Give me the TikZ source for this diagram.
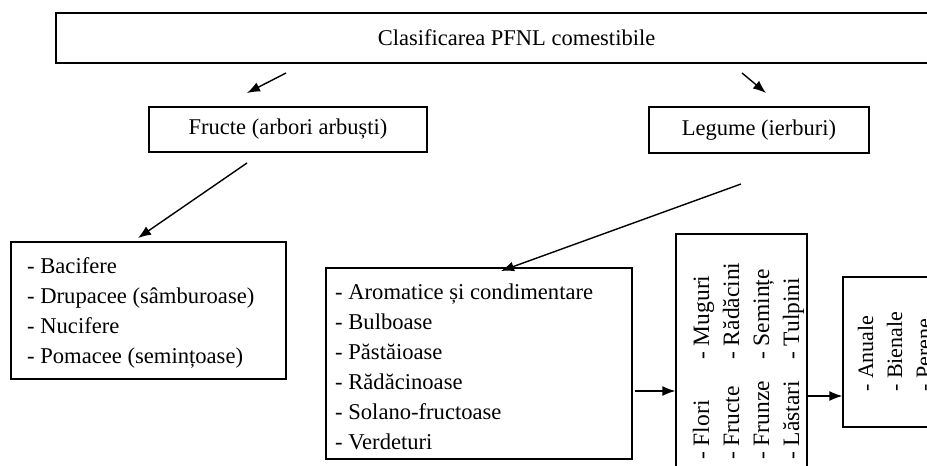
\documentclass[tikz,border=0pt]{standalone}
\usepackage{fontspec}
\setmainfont{Liberation Serif}
\usetikzlibrary{arrows.meta}
\begin{document}
\begin{tikzpicture}[x=1pt,y=-1pt,
  box/.style={draw, line width=1.2pt, rectangle, inner sep=0pt},
  conn/.style={line width=1.4pt, -{Latex[length=13pt,width=10pt]}},
  lbl/.style={inner sep=0pt, font=\fontsize{22.5}{30}\selectfont},
  txt/.style={inner sep=0pt, anchor=base west, font=\fontsize{22.6}{30}\selectfont},
  vtxt/.style={inner sep=0pt, anchor=base west, rotate=90, font=\fontsize{23.5}{30}\selectfont},
  ltxt/.style={vtxt, font=\fontsize{22}{30}\selectfont}]
\useasboundingbox (0,0) rectangle (927,466);
\clip (0,0) rectangle (927,466);
% boxes
\node[box, minimum width=923pt, minimum height=50pt] (top) at (517.5,38) {};
\node[lbl] (toptxt) at (516.5,38) {Clasificarea PFNL comestibile};
\node[box, minimum width=278pt, minimum height=45pt] (fructe) at (288,129.5) {};
\node[lbl] (fructetxt) at (288,129.5) {Fructe (arbori arbuști)};
\node[box, minimum width=220pt, minimum height=46pt] (legume) at (759,130) {};
\node[lbl] (legumetxt) at (759,130) {Legume (ierburi)};
\node[box, minimum width=275pt, minimum height=137pt] (bac) at (148.5,310.5) {};
\node[box, minimum width=306pt, minimum height=191pt] (aro) at (479,363.5) {};
\node[box, minimum width=131pt, minimum height=266pt] (vert) at (741.5,367) {};
\node[box, minimum width=157pt, minimum height=150pt] (last) at (921.5,352) {};
% list texts
\node[txt] (b1) at (27,273) {- Bacifere};
\node[txt] (b2) at (27,303) {- Drupacee (sâmburoase)};
\node[txt] (b3) at (27,333) {- Nucifere};
\node[txt] (b4) at (27,363) {- Pomacee (semințoase)};
\node[txt] (r1) at (335,299) {- Aromatice și condimentare};
\node[txt] (r2) at (335,329) {- Bulboase};
\node[txt] (r3) at (335,359) {- Păstăioase};
\node[txt] (r4) at (335,389) {- Rădăcinoase};
\node[txt] (r5) at (335,419) {- Solano-fructoase};
\node[txt] (r6) at (335,449) {- Verdeturi};
% vertical texts
\node[vtxt] (v1) at (709,460) {- Flori};
\node[vtxt] (v2) at (739,460) {- Fructe};
\node[vtxt] (v3) at (769,460) {- Frunze};
\node[vtxt] (v4) at (799,460) {- Lăstari};
\node[vtxt] (w1) at (709,360) {- Muguri};
\node[vtxt] (w2) at (739,360) {- Rădăcini};
\node[vtxt] (w3) at (769,360) {- Semințe};
\node[vtxt] (w4) at (799,360) {- Tulpini};
\node[ltxt] (l1) at (873,392) {- Anuale};
\node[ltxt] (l2) at (902,392) {- Bienale};
\node[ltxt] (l3) at (931,392) {- Perene};
% connectors
\coordinate (a1s) at (286,73);  \coordinate (a1e) at (247,93);
\coordinate (a2s) at (742,73);  \coordinate (a2e) at (766,93);
\coordinate (a3s) at (247,163); \coordinate (a3e) at (138,238);
\coordinate (a4s) at (741,184); \coordinate (a4e) at (501,271);
\coordinate (a5s) at (635,391);
\coordinate (a6s) at (807,396);
\draw[conn] (a1s) -- (a1e);
\draw[conn] (a2s) -- (a2e);
\draw[conn] (a3s) -- (a3e);
\draw[conn] (a4s) -- (a4e);
\draw[conn] (a5s) -- (a5s -| vert.west);
\draw[conn] (a6s) -- (a6s -| last.west);
\end{tikzpicture}
\end{document}
